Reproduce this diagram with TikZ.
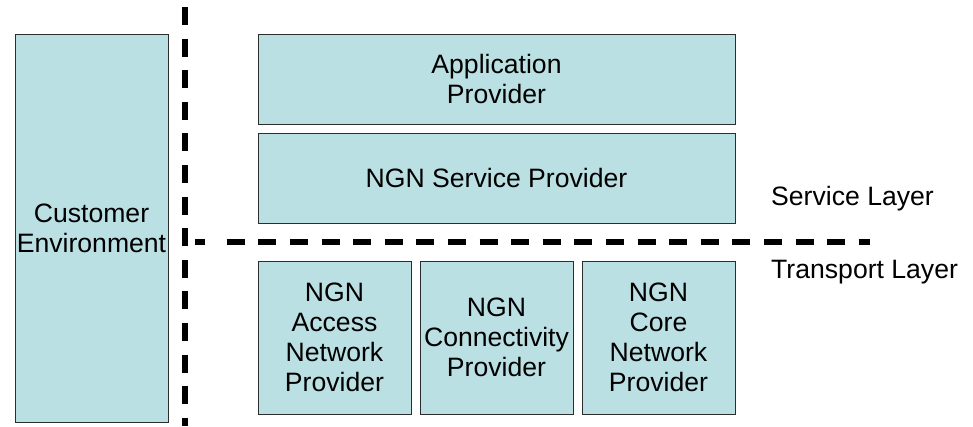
\documentclass[tikz,border=0pt]{standalone}
\usepackage{fontspec}
\setmainfont{Liberation Sans}
\begin{document}
\begin{tikzpicture}[x=1pt,y=-1pt,
  provbox/.style={draw={rgb,255:red,45;green,45;blue,45}, line width=0.8pt,
    fill={rgb,255:red,187;green,224;blue,227}, align=center, inner sep=0pt,
    font=\fontsize{26.6}{30}\selectfont},
  layerlabel/.style={anchor=base west, inner sep=0pt, font=\fontsize{26.6}{30}\selectfont},
  divider/.style={line width=5.5pt, dash pattern=on 18pt off 13.6pt, line cap=butt}]
\useasboundingbox (0,0) rectangle (973,426);
% boxes
\node[provbox, minimum width=153pt, minimum height=388pt] (cust) at (91.5,228) {Customer\\Environment};
\node[provbox, minimum width=477pt, minimum height=90pt] (app) at (496.5,79) {Application\\Provider};
\node[provbox, minimum width=477pt, minimum height=90pt] (svc) at (496.5,178) {NGN Service Provider};
\node[provbox, minimum width=153pt, minimum height=153pt] (acc) at (334.5,337.5) {NGN\\Access\\Network\\Provider};
\node[provbox, minimum width=153pt, minimum height=153pt] (con) at (496.5,337.5) {NGN\\Connectivity\\Provider};
\node[provbox, minimum width=153pt, minimum height=153pt] (core) at (658.5,337.5) {NGN\\Core\\Network\\Provider};
% layer labels
\node[layerlabel] (sl) at (771,205) {Service Layer};
\node[layerlabel] (tl) at (771,278) {Transport Layer};
% dividers
\coordinate (vtop) at (185,7);
\coordinate (vbot) at (185,426);
\coordinate (hA) at (195,242);
\coordinate (hB) at (204.5,242);
\coordinate (hC) at (226.7,242);
\coordinate (hD) at (870,242);
\draw[divider] (vtop) -- (vbot);
\draw[line width=5.5pt, line cap=butt] (hA) -- (hB);
\draw[divider] (hC) -- (hD);
\end{tikzpicture}
\end{document}
